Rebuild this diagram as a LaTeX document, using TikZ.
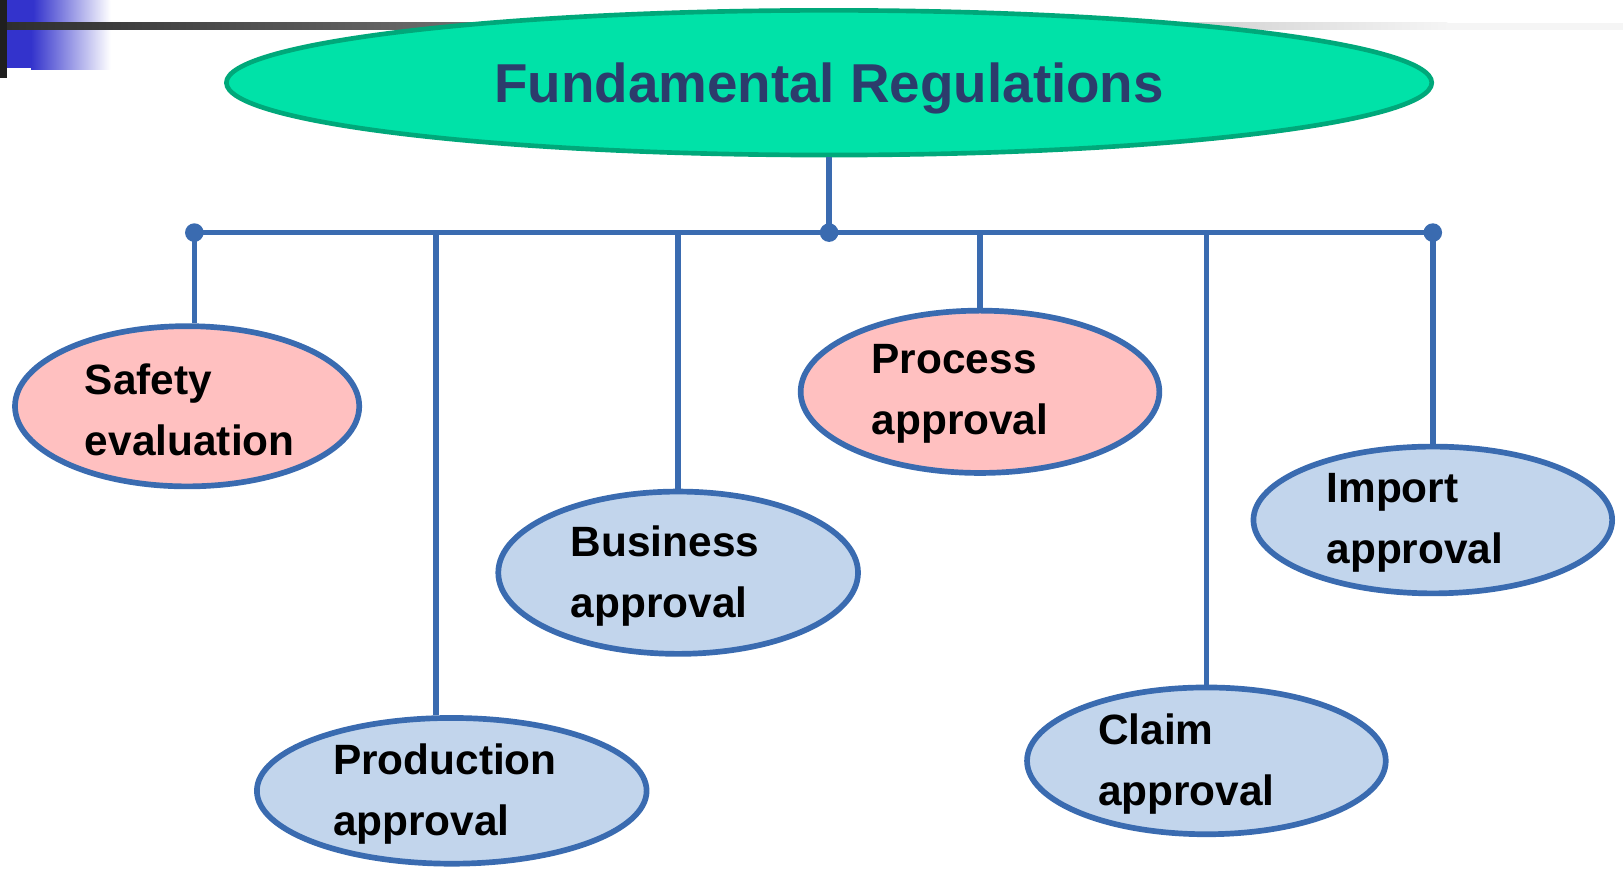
\documentclass[tikz,border=0pt]{standalone}
\usepackage{fontspec}
\setmainfont{Liberation Sans}
\usetikzlibrary{shapes.geometric}
\definecolor{mainfill}{HTML}{00E2A8}
\definecolor{mainedge}{HTML}{00A87A}
\definecolor{titlecol}{HTML}{2C3C6C}
\definecolor{linkblue}{HTML}{3A6BB0}
\definecolor{pinkfill}{HTML}{FFC0C0}
\definecolor{bluefill}{HTML}{C2D5EC}
\definecolor{deco}{HTML}{3333CC}
\tikzset{
  x=1pt, y=-1pt,
  link/.style={draw=linkblue, line width=5.5pt},
  dot/.style={fill=linkblue, circle, inner sep=0pt, minimum size=18pt},
  pinkbox/.style={ellipse, draw=linkblue, line width=5.5pt, fill=pinkfill, inner sep=0pt},
  bluebox/.style={ellipse, draw=linkblue, line width=5.5pt, fill=bluefill, inner sep=0pt},
  lbl/.style={anchor=west, align=left, inner sep=0pt, font=\fontsize{41}{59}\selectfont\bfseries}
}
\begin{document}
\begin{tikzpicture}
\useasboundingbox (0,0) rectangle (1570,841);
% header decoration
\fill[black!88] (0,0) rectangle (7,75);
\fill[deco] (7,0) rectangle (32,22);
\shade[left color=deco, right color=white] (32,0) rectangle (107,22);
\fill[deco] (7,29) rectangle (30,66);
\shade[left color=deco, right color=white] (30,29) rectangle (107,67);
\shade[left color=black!82, right color=black!4] (7,22) rectangle (1400,29);
\fill[black!4] (1400,22) rectangle (1570,29);
% main ellipse
\node[ellipse, draw=mainedge, line width=4.5pt, fill=mainfill, minimum width=1166pt, minimum height=140pt, inner sep=0pt] (main) at (802,80) {};
\node[font=\fontsize{53}{60}\selectfont\bfseries, text=titlecol, inner sep=0pt] (title) at (802,86) {Fundamental Regulations};
% bus
\coordinate (busL) at (188,225);
\coordinate (hub) at (802,225);
\coordinate (busR) at (1386,225);
\coordinate (t2) at (422,225);
\coordinate (t3) at (656,225);
\coordinate (t4) at (948,225);
\coordinate (t5) at (1167,225);
% child ellipses
\node[pinkbox, minimum width=333pt, minimum height=155pt] (safety) at (181,393) {};
\node[bluebox, minimum width=377pt, minimum height=141pt] (prod) at (437,765) {};
\node[bluebox, minimum width=348pt, minimum height=157pt] (bus) at (656,554) {};
\node[pinkbox, minimum width=347pt, minimum height=157pt] (proc) at (948,379) {};
\node[bluebox, minimum width=347pt, minimum height=142pt] (claim) at (1167,736) {};
\node[bluebox, minimum width=347pt, minimum height=142pt] (import) at (1386,503) {};
% connectors
\draw[link] (main.south) -- (hub);
\draw[link] (busL) -- (busR);
\draw[link] (busL) -- (busL |- safety.north);
\draw[link] (t2) -- (t2 |- prod.north);
\draw[link] (t3) -- (bus.north);
\draw[link] (t4) -- (proc.north);
\draw[link] (t5) -- (claim.north);
\draw[link] (busR) -- (import.north);
\node[dot] (dL) at (busL) {};
\node[dot] (dH) at (hub) {};
\node[dot] (dR) at (busR) {};
% labels
\node[lbl] (lsafety) at (82,396) {Safety\\evaluation};
\node[lbl] (lprod) at (322,768) {Production\\approval};
\node[lbl] (lbus) at (552,557) {Business\\approval};
\node[lbl] (lproc) at (843,381) {Process\\approval};
\node[lbl] (lclaim) at (1062,739) {Claim\\approval};
\node[lbl] (limport) at (1283,506) {Import\\approval};
\end{tikzpicture}
\end{document}
